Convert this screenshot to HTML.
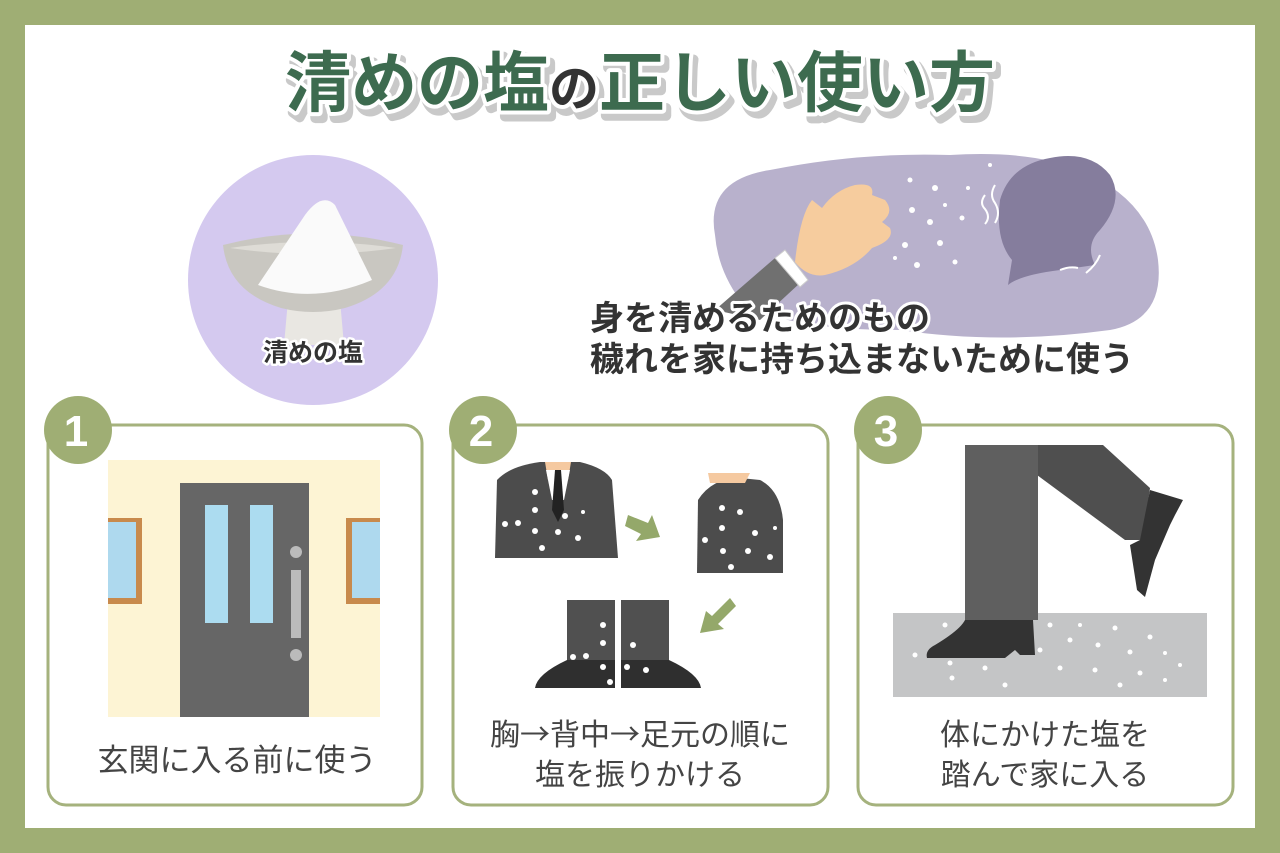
<!DOCTYPE html>
<html><head><meta charset="utf-8"><style>
html,body{margin:0;padding:0;background:#9fae74;}
svg{display:block}
text{font-family:"Liberation Sans","Noto Sans CJK JP",sans-serif;}
</style></head><body>
<svg width="1280" height="853" viewBox="0 0 1280 853" xmlns="http://www.w3.org/2000/svg">
<rect width="1280" height="853" fill="#9fae74"/>
<rect x="25" y="25" width="1230" height="803" fill="#fff"/>

<!-- Title -->
<g font-size="66" font-weight="bold" text-anchor="middle">
<text x="644" y="112" fill="#c9c9c9" stroke="#c9c9c9" stroke-width="10" stroke-linejoin="round">清めの塩<tspan font-size="50">の</tspan>正しい使い方</text>
<text x="640" y="106" fill="#3d6b4f" stroke="#fff" stroke-width="8" stroke-linejoin="round" paint-order="stroke">清めの塩<tspan font-size="50" fill="#333">の</tspan>正しい使い方</text>
</g>

<!-- purple circle with salt -->
<circle cx="313" cy="280" r="125" fill="#d4c9ef"/>
<path d="M288 300 h52 l4 45 h-60 z" fill="#e9e7e2"/>
<path d="M223 245 Q313 222 403 245 Q398 292 345 308 Q313 316 281 308 Q228 292 223 245 z" fill="#c9c7c1"/>
<path d="M230 248 Q313 236 396 248 Q313 260 230 248z" fill="#dedcd6"/>
<path d="M258 285 L305 215 Q322 192 335 205 L372 280 Q313 305 258 285 z" fill="#fafafa"/>
<text x="313" y="361" font-size="25" font-weight="bold" text-anchor="middle" fill="#333" stroke="#fff" stroke-width="5" paint-order="stroke" stroke-linejoin="round">清めの塩</text>

<!-- purple blob -->
<path d="M715 235 Q705 180 770 170 Q860 152 950 155 Q1030 150 1080 170 Q1150 200 1158 260 Q1165 320 1110 330 Q1000 345 900 330 Q780 330 740 300 Q718 270 715 235 z" fill="#b8b1cc"/>
<path d="M1000 200 Q1010 165 1050 158 Q1090 150 1110 175 Q1125 200 1100 230 Q1085 245 1095 265 L1060 270 Q1020 275 1008 285 L1012 260 Q995 240 1000 200 z" fill="#857d9d"/>
<g fill="#fff">
<circle cx="910" cy="180" r="2.5"/><circle cx="935" cy="188" r="3"/><circle cx="912" cy="210" r="3"/><circle cx="930" cy="222" r="3"/><circle cx="962" cy="218" r="2.5"/><circle cx="940" cy="243" r="3"/><circle cx="905" cy="245" r="3"/><circle cx="917" cy="265" r="3"/><circle cx="895" cy="258" r="2"/><circle cx="955" cy="262" r="2.5"/><circle cx="990" cy="165" r="2"/><circle cx="968" cy="188" r="2"/><circle cx="945" cy="205" r="2"/>
</g>
<path d="M985 195 q-6 8 0 14 q6 8 0 15 M995 185 q-6 10 0 18 q6 10 0 20" stroke="#fff" stroke-width="2" fill="none"/>
<path d="M1060 270 q10 -4 18 -2 M1100 255 q-4 10 -14 18" stroke="#fff" stroke-width="2" fill="none"/>
<!-- hand -->
<path d="M715 310 L775 258 L800 283 L760 320 z" fill="#707070"/>
<path d="M775 258 L785 250 L808 280 L800 287 z" fill="#fff" stroke="#ccc"/>
<path d="M795 262 Q800 215 812 200 L822 208 Q835 190 855 185 Q875 182 872 195 L885 200 Q895 212 882 222 L890 228 Q895 240 872 248 Q855 268 825 275 Q808 278 795 262 z" fill="#f6cc9e"/>
<!-- right text -->
<g font-size="34" font-weight="bold" fill="#333" stroke="#fff" stroke-width="6" paint-order="stroke" stroke-linejoin="round">
<text x="590" y="330">身を清めるためのもの</text>
<text x="590" y="371">穢れを家に持ち込まないために使う</text>
</g>

<!-- panels -->
<g fill="#fff" stroke="#a5b27d" stroke-width="3">
<rect x="48" y="425" width="374" height="380" rx="18"/>
<rect x="453" y="425" width="375" height="380" rx="18"/>
<rect x="858" y="425" width="375" height="380" rx="18"/>
</g>
<g fill="#9fae74"><circle cx="78" cy="430" r="34"/><circle cx="483" cy="430" r="34"/><circle cx="888" cy="430" r="34"/></g>
<g font-size="44" font-weight="bold" fill="#fff" text-anchor="middle">
<text x="76" y="446">1</text><text x="481" y="446">2</text><text x="886" y="446">3</text>
</g>

<!-- panel 1 door -->
<rect x="108" y="460" width="272" height="257" fill="#fdf4d4"/>
<rect x="108" y="518" width="34" height="86" fill="#c88a4c"/>
<rect x="108" y="522" width="28" height="76" fill="#aed9ee"/>
<rect x="346" y="518" width="34" height="86" fill="#c88a4c"/>
<rect x="352" y="522" width="28" height="76" fill="#aed9ee"/>
<rect x="180" y="483" width="129" height="234" fill="#666"/>
<rect x="205" y="505" width="23" height="118" fill="#acdcf0"/>
<rect x="250" y="505" width="23" height="118" fill="#acdcf0"/>
<circle cx="296" cy="552" r="6" fill="#bbb"/><circle cx="296" cy="655" r="6" fill="#bbb"/>
<rect x="291" y="570" width="10" height="68" fill="#bbb"/>
<text x="237" y="771" font-size="31" fill="#444" text-anchor="middle">玄関に入る前に使う</text>

<!-- panel 2 -->
<path d="M497 480 Q510 466 540 462 L580 462 Q605 468 612 480 L618 558 L495 558 z" fill="#4c4c4c"/>
<path d="M545 462 h26 l-3 18 h-20z" fill="#f5c9a0"/>
<path d="M546 470 L570 470 L564 500 L552 500z" fill="#fff"/>
<path d="M555 470 h6 l3 40 l-6 12 l-6 -12z" fill="#222"/>
<path d="M698 500 Q712 478 740 478 L760 480 Q780 490 783 520 L783 573 L697 573 z" fill="#4c4c4c"/>
<path d="M708 473 h42 l-5 10 h-35z" fill="#f5c9a0"/>
<rect x="567" y="600" width="48" height="60" fill="#505050"/>
<rect x="621" y="600" width="48" height="60" fill="#505050"/>
<path d="M567 660 h48 v28 h-80 q2 -14 32 -28z" fill="#2f2f2f"/>
<path d="M621 660 h48 q30 14 32 28 h-80z" fill="#2f2f2f"/>
<g fill="#fff">
<circle cx="535" cy="492" r="3"/><circle cx="535" cy="510" r="3"/><circle cx="505" cy="524" r="3"/><circle cx="518" cy="523" r="3"/><circle cx="535" cy="531" r="3"/><circle cx="558" cy="532" r="3"/><circle cx="578" cy="538" r="3"/><circle cx="542" cy="548" r="3"/><circle cx="565" cy="516" r="3"/><circle cx="583" cy="512" r="2"/>
<circle cx="722" cy="508" r="3"/><circle cx="740" cy="512" r="3"/><circle cx="722" cy="528" r="3"/><circle cx="755" cy="533" r="3"/><circle cx="705" cy="540" r="3"/><circle cx="723" cy="551" r="3"/><circle cx="748" cy="551" r="3"/><circle cx="770" cy="557" r="3"/><circle cx="731" cy="567" r="3"/><circle cx="775" cy="528" r="2"/>
<circle cx="603" cy="625" r="3"/><circle cx="603" cy="643" r="3"/><circle cx="573" cy="657" r="3"/><circle cx="586" cy="656" r="3"/><circle cx="603" cy="667" r="3"/><circle cx="633" cy="645" r="3"/><circle cx="646" cy="670" r="3"/><circle cx="627" cy="667" r="3"/><circle cx="610" cy="682" r="3"/>
</g>
<path d="M628 515 l20 8 l4 -8 l8 22 l-24 4 l5 -7 l-16 -8z" fill="#94a86a"/>
<path d="M730 598 l-18 18 l-6 -5 l-6 22 l24 -4 l-6 -5 l18 -18z" fill="#94a86a"/>
<text x="640" y="745" font-size="30" fill="#444" text-anchor="middle">胸<tspan font-family="Noto Sans CJK JP, sans-serif">→</tspan>背中<tspan font-family="Noto Sans CJK JP, sans-serif">→</tspan>足元の順に</text>
<text x="640" y="785" font-size="30" fill="#444" text-anchor="middle">塩を振りかける</text>

<!-- panel 3 -->
<rect x="893" y="613" width="314" height="84" fill="#c4c5c6"/>
<path d="M1037 445 L1103 445 L1150 488 L1143 540 L1125 540 L1037 475 z" fill="#4f4f4f"/>
<path d="M1150 490 L1183 500 L1175 515 L1170 525 L1155 560 L1145 597 L1137 590 L1130 545 L1140 540z" fill="#333"/>
<rect x="965" y="445" width="73" height="175" fill="#5f5f5f"/>
<path d="M965 620 L1033 620 L1035 655 L1020 655 L1015 650 L1005 658 L927 658 Q925 650 935 645 Q960 630 965 620z" fill="#333"/>
<g fill="#fff">
<circle cx="945" cy="625" r="2.5"/><circle cx="1050" cy="625" r="2.5"/><circle cx="1115" cy="628" r="2.5"/><circle cx="1150" cy="637" r="2.5"/><circle cx="1070" cy="640" r="2.5"/><circle cx="1098" cy="645" r="2.5"/><circle cx="1130" cy="652" r="2.5"/><circle cx="1165" cy="653" r="2"/><circle cx="915" cy="655" r="2.5"/><circle cx="950" cy="663" r="2.5"/><circle cx="985" cy="668" r="2.5"/><circle cx="1060" cy="668" r="2.5"/><circle cx="1095" cy="670" r="2.5"/><circle cx="1140" cy="673" r="2.5"/><circle cx="1180" cy="665" r="2"/><circle cx="952" cy="678" r="2.5"/><circle cx="1005" cy="685" r="2.5"/><circle cx="1120" cy="685" r="2.5"/><circle cx="1165" cy="680" r="2"/><circle cx="1040" cy="650" r="2.5"/><circle cx="1080" cy="625" r="2"/>
</g>
<text x="1045" y="745" font-size="30" fill="#444" text-anchor="middle">体にかけた塩を</text>
<text x="1045" y="785" font-size="30" fill="#444" text-anchor="middle">踏んで家に入る</text>
</svg>
</body></html>
